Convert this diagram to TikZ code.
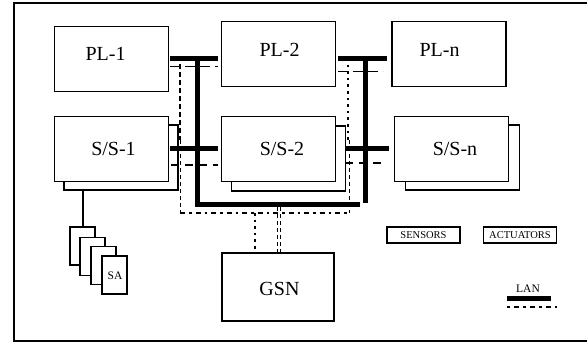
\documentclass[tikz,border=0pt]{standalone}
\usepackage{fontspec}
\setmainfont{Liberation Serif}
\begin{document}
\begin{tikzpicture}[x=1pt,y=-1pt,
  box/.style={draw,line width=1.6pt,fill=white,inner sep=0pt,minimum width=114pt,minimum height=65pt},
  sabox/.style={draw,line width=1.6pt,fill=white,inner sep=0pt,minimum width=25pt,minimum height=38pt},
  tagbox/.style={draw,line width=1.6pt,fill=white,inner sep=0pt,minimum width=73pt,minimum height=16pt,font=\fontsize{10.5}{11}\selectfont},
  lbl/.style={inner sep=0pt,font=\fontsize{20}{22}\selectfont},
  small/.style={inner sep=0pt,font=\fontsize{11.5}{12}\selectfont},
  lan/.style={line width=5pt},
  thindash/.style={line width=0.9pt,dash pattern=on 10pt off 5pt},
  thickdash/.style={line width=2.6pt,dash pattern=on 8pt off 6pt},
  vdash/.style={line width=2.4pt,dash pattern=on 5pt off 3pt},
  finedash/.style={line width=0.9pt,dash pattern=on 4pt off 3pt},
  dotline/.style={line width=2.6pt,dash pattern=on 2.6pt off 4pt},
  dashdot/.style={line width=2.4pt,dash pattern=on 5pt off 4pt on 2.5pt off 4pt},
  legdash/.style={line width=2.6pt,dash pattern=on 2.5pt off 4pt on 5.5pt off 4pt}]
\useasboundingbox (0,0) rectangle (587,343);
\draw[line width=2pt] (600,3) -- (14,3) -- (14,341) -- (600,341);
% processing units
\node[box] (pl1) at (111.5,59) {};
\node[box] (pl2) at (278.5,54) {};
\node[box] (pln) at (449,54) {};
\node[lbl] at (105.5,54) {PL-1};
\node[lbl] at (279.5,50) {PL-2};
\node[lbl] at (439.5,50) {PL-n};
% subsystems with shadows
\node[box] (ss1s) at (121,157.5) {};
\node[box] (ss1) at (111.5,149) {};
\node[box] (ss2s) at (288.5,158.5) {};
\node[box] (ss2) at (278.5,149) {};
\node[box] (ssns) at (462.5,157.5) {};
\node[box] (ssn) at (451.5,149) {};
\node[lbl] at (113.5,148.5) {S/S-1};
\node[lbl] at (282,148.5) {S/S-2};
\node[lbl] at (455,148.5) {S/S-n};
% GSN
\node[box,minimum height=68pt,minimum width=112pt] (gsn) at (278,287) {};
\node[lbl] at (279.5,288.5) {GSN};
% SA stack
\node[sabox] (sa1) at (82.5,246) {};
\node[sabox] (sa2) at (92.5,256.5) {};
\node[sabox] (sa3) at (103.5,265.5) {};
\node[sabox] (sa4) at (114.5,275) {};
\node[small] at (115,276) {SA};
\draw[line width=1.6pt] (ss1s.south -| 83,0) coordinate (c0) -- (sa1.north -| c0);
% legend tags
\node[tagbox] (sens) at (423.5,235) {SENSORS};
\node[tagbox] (act) at (520,235) {ACTUATORS};
\node[small] (lanl) at (528,289) {LAN};
\coordinate (la) at (507,298); \coordinate (lb) at (551,298);
\draw[lan] (la) -- (lb);
\coordinate (ld1) at (507,307); \coordinate (ld2) at (557,307);
\draw[legdash] (ld1) -- (ld2);
% LAN coordinates
\coordinate (a1) at (170,58); \coordinate (a2) at (218,58);
\coordinate (v1t) at (197,58); \coordinate (v1b) at (197,204);
\coordinate (h1e) at (360,204);
\coordinate (b1) at (338,58); \coordinate (b2) at (387,58);
\coordinate (v2t) at (365,58); \coordinate (v2b) at (365,203);
\coordinate (s1) at (170,148); \coordinate (s2) at (218,148);
\coordinate (s3) at (345,148); \coordinate (s4) at (389,148);
% thick LAN
\draw[lan] (a1) -- (a2);
\draw[lan] (b1) -- (b2);
\draw[lan] (s1) -- (s2);
\draw[lan] (s3) -- (s4);
\draw[lan] (v1t) -- (v1b) -- (h1e);
\draw[lan] (v2t) -- (v2b);
% second LAN (dashed)
\coordinate (d1) at (170,66); \coordinate (d2) at (218,66);
\coordinate (d3) at (338,71); \coordinate (d4) at (383,71);
\coordinate (e1) at (171,165); \coordinate (e2) at (218,165);
\coordinate (e3) at (345,163); \coordinate (e4) at (386,163);
\draw[thindash] (d1) -- (d2);
\draw[thindash] (d3) -- (d4);
\draw[thickdash] (e1) -- (e2);
\draw[thickdash] (e3) -- (e4);
\coordinate (l1) at (180,56); \coordinate (l2) at (180,140); \coordinate (l3) at (180,213);
\coordinate (r1) at (348,58); \coordinate (r2) at (348,140); \coordinate (r3) at (349,213);
\draw[vdash] (l1) -- (l2);
\draw[finedash] (l2) -- (l3);
\draw[dotline] (r1) -- (r2);
\draw[finedash] (r2 -| r3) -- (r3);
\draw[dashdot] (l3) -- (r3);
% GSN links
\coordinate (g1) at (255,213);
\draw[dotline] (g1) -- (gsn.north -| g1);
\coordinate (g2) at (277,207); \coordinate (g3) at (280,207);
\draw[finedash] (g2) -- (gsn.north -| g2);
\draw[finedash] (g3) -- (gsn.north -| g3);
\end{tikzpicture}
\end{document}
